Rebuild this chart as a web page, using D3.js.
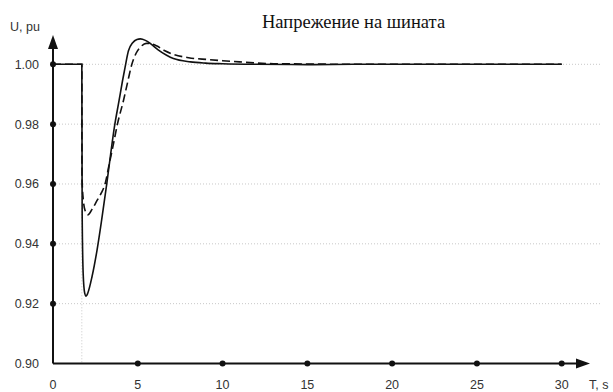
<html>
<head>
<script src="https://d3js.org/d3.v7.min.js"></script>
<style>
  body { margin: 0; background: #fff; }
  text { font-family: "Liberation Sans", Arial, sans-serif; }
</style>
</head>

<body>
  <script>
    const width = 613;
    const height = 392;

    // data
    const title = "Напрежение на шината";
    const xTicks = [0, 5, 10, 15, 20, 25, 30];
    const yTicks = [0.90, 0.92, 0.94, 0.96, 0.98, 1.00];
    const faultTime = 1.7;

    // solid curve
    const solidT = [0, 1.7, 1.72, 1.78, 1.87, 1.95, 2.05, 2.3, 2.6, 2.87, 3.17, 3.4, 3.62, 3.9, 4.1, 4.25, 4.45, 4.7, 4.95, 5.15, 5.45, 5.75, 6.2, 6.7, 7.1, 8.1, 9, 10, 12, 15, 18, 20, 25, 30];
    const solidU = [1.0, 1.0, 0.95, 0.93, 0.9235, 0.9225, 0.9235, 0.929, 0.938, 0.948, 0.96, 0.97, 0.979, 0.988, 0.9945, 0.999, 1.0045, 1.0072, 1.0083, 1.0085, 1.008, 1.0069, 1.0048, 1.003, 1.0019, 1.0008, 1.0004, 1.0002, 1.0, 0.9999, 1.0, 1.0, 1.0, 1.0];

    // dashed curve
    const dashT = [0, 1.7, 1.71, 1.8, 1.9, 2.05, 2.3, 2.6, 2.85, 3.07, 3.3, 3.55, 3.8, 4.16, 4.4, 4.65, 4.9, 5.2, 5.5, 5.75, 6.1, 6.6, 7.1, 8.0, 9.1, 10, 11, 13, 15, 18, 30];
    const dashU = [1.0, 1.0, 0.962, 0.954, 0.951, 0.9497, 0.9515, 0.9545, 0.957, 0.96, 0.9662, 0.973, 0.98, 0.988, 0.994, 1.0, 1.0037, 1.006, 1.007, 1.0069, 1.0062, 1.0045, 1.0033, 1.0022, 1.0016, 1.0012, 1.0008, 1.0002, 1.0001, 1.0, 1.0];

    const svg = d3.select("body")
              .append("svg")
              .attr("width", width)
              .attr("height", height);

    const x = d3.scaleLinear().domain([0, 30]).range([53, 561.7]);
    const y = d3.scaleLinear().domain([0.9, 1.0]).range([363.5, 64.3]);

    // dotted grid lines
    svg.selectAll(".grid")
       .data(yTicks.filter(d => d > 0.9))
       .enter().append("line")
       .attr("x1", x(0)).attr("x2", 602)
       .attr("y1", d => y(d)).attr("y2", d => y(d))
       .attr("stroke", "#c8c8c8")
       .attr("stroke-width", 1)
       .attr("stroke-dasharray", "1,2");

    svg.append("line")
       .attr("x1", x(faultTime)).attr("x2", x(faultTime))
       .attr("y1", y(1.0)).attr("y2", y(0.9))
       .attr("stroke", "#c8c8c8")
       .attr("stroke-width", 1)
       .attr("stroke-dasharray", "1,2");

    // curves
    const line = d3.line()
                   .x(d => x(d[0]))
                   .y(d => y(d[1]))
                   .curve(d3.curveMonotoneX);

    svg.append("path")
       .attr("d", line(dashT.map((t, i) => [t, dashU[i]])))
       .attr("fill", "none")
       .attr("stroke", "#111")
       .attr("stroke-width", 1.6)
       .attr("stroke-dasharray", "8,4");

    svg.append("path")
       .attr("d", line(solidT.map((t, i) => [t, solidU[i]])))
       .attr("fill", "none")
       .attr("stroke", "#111")
       .attr("stroke-width", 1.6);

    // axes with arrows
    svg.append("line")
       .attr("x1", x(0)).attr("x2", x(0))
       .attr("y1", y(0.9)).attr("y2", 42)
       .attr("stroke", "#111").attr("stroke-width", 2);
    svg.append("path")
       .attr("d", `M${x(0)},35 L${x(0) - 5},49 L${x(0) + 5},49 Z`)
       .attr("fill", "#111");

    svg.append("line")
       .attr("x1", x(0)).attr("x2", 582)
       .attr("y1", y(0.9)).attr("y2", y(0.9))
       .attr("stroke", "#111").attr("stroke-width", 2);
    svg.append("path")
       .attr("d", `M590,${y(0.9)} L576,${y(0.9) - 5} L576,${y(0.9) + 5} Z`)
       .attr("fill", "#111");

    // tick dots
    svg.selectAll(".ydot")
       .data(yTicks.filter(d => d > 0.9))
       .enter().append("circle")
       .attr("cx", x(0)).attr("cy", d => y(d)).attr("r", 3)
       .attr("fill", "#111");

    svg.selectAll(".xdot")
       .data(xTicks.filter(d => d > 0))
       .enter().append("circle")
       .attr("cx", d => x(d)).attr("cy", y(0.9)).attr("r", 3)
       .attr("fill", "#111");

    // tick labels
    svg.selectAll(".ylab")
       .data(yTicks)
       .enter().append("text")
       .attr("x", 39).attr("y", d => y(d))
       .attr("dy", "0.35em")
       .attr("text-anchor", "end")
       .attr("font-size", 12.5)
       .attr("fill", "#333")
       .text(d => d3.format(".2f")(d));

    svg.selectAll(".xlab")
       .data(xTicks)
       .enter().append("text")
       .attr("x", d => x(d)).attr("y", 389)
       .attr("text-anchor", "middle")
       .attr("font-size", 12.5)
       .attr("fill", "#333")
       .text(d => d);

    svg.append("text")
       .attr("x", 10).attr("y", 31)
       .attr("font-size", 12.5)
       .attr("fill", "#333")
       .text("U, pu");

    svg.append("text")
       .attr("x", 589).attr("y", 389)
       .attr("font-size", 12.5)
       .attr("fill", "#333")
       .text("T, s");

    // title
    svg.append("text")
       .attr("x", 262).attr("y", 28)
       .attr("font-size", 18.5)
       .attr("fill", "#111")
       .style("font-family", "'Liberation Serif', 'Times New Roman', serif")
       .text(title);

  </script>
</body>
</html>
